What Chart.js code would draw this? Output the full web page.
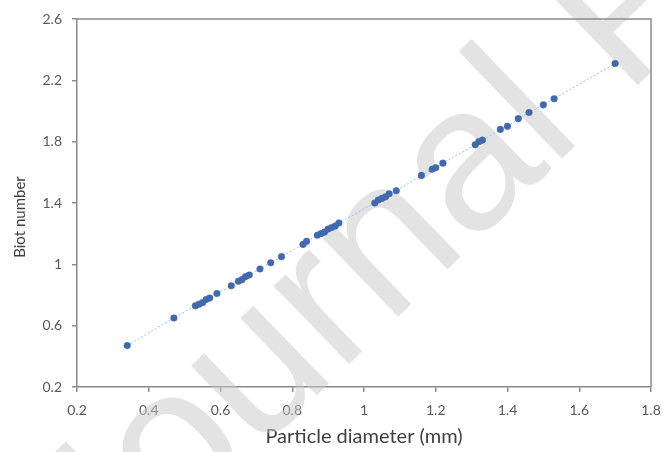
<!DOCTYPE html>
<html>
<head>
<meta charset="utf-8">
<script src="https://cdn.jsdelivr.net/npm/chart.js@4.4.1/dist/chart.umd.min.js"></script>
<style>
    html, body { margin: 0; padding: 0; background: #fff; }
    #wrap { width: 663px; height: 452px; }
</style>
</head>
<body>
<div id="wrap"><canvas id="biotChart" width="663" height="452"></canvas></div>
<script>
// particle diameter (mm) and Biot number
const diameters = [0.34, 0.47, 0.53, 0.54, 0.55, 0.56, 0.57, 0.59, 0.63, 0.65, 0.66, 0.67, 0.68,
    0.71, 0.74, 0.77, 0.83, 0.84, 0.87, 0.88, 0.89, 0.90, 0.91, 0.92, 0.93,
    1.03, 1.04, 1.05, 1.06, 1.07, 1.09, 1.16, 1.19, 1.20, 1.22, 1.31, 1.32, 1.33,
    1.38, 1.40, 1.43, 1.46, 1.50, 1.53, 1.70];
const biotNumbers = [0.47, 0.65, 0.73, 0.74, 0.75, 0.77, 0.78, 0.81, 0.86, 0.89, 0.90, 0.92, 0.93,
    0.97, 1.01, 1.05, 1.13, 1.15, 1.19, 1.20, 1.21, 1.23, 1.24, 1.25, 1.27,
    1.40, 1.42, 1.43, 1.44, 1.46, 1.48, 1.58, 1.62, 1.63, 1.66, 1.78, 1.80, 1.81,
    1.88, 1.90, 1.95, 1.99, 2.04, 2.08, 2.31];
const xTicks = [0.2, 0.4, 0.6, 0.8, 1, 1.2, 1.4, 1.6, 1.8];
const yTicks = [0.2, 0.6, 1, 1.4, 1.8, 2.2, 2.6];
const yTitle = 'Biot number';

const axisGrey = '#8a8a8a';
const labelGrey = '#595959';
const fontFamily = 'Lato, "Open Sans", sans-serif';

// closes the plot box on top and right, and writes the y title a bit below centre like the original
const frame = {
    id: 'frame',
    afterDraw(chart) {
        const { ctx, chartArea: a } = chart;
        ctx.save();
        ctx.strokeStyle = axisGrey;
        ctx.lineWidth = 1.5;
        ctx.beginPath();
        ctx.moveTo(a.left, a.top);
        ctx.lineTo(a.right, a.top);
        ctx.lineTo(a.right, a.bottom);
        ctx.stroke();

        ctx.translate(20, (a.top + a.bottom) / 2 + 14);
        ctx.rotate(-Math.PI / 2);
        ctx.font = '15px ' + fontFamily;
        ctx.fillStyle = '#404040';
        ctx.textAlign = 'center';
        ctx.textBaseline = 'middle';
        ctx.fillText(yTitle, 0, 0);
        ctx.restore();
    }
};

// "Journal Pre-proof" stamp behind the points
const stamp = {
    id: 'stamp',
    beforeDatasetsDraw(chart) {
        const ctx = chart.ctx;
        ctx.save();
        ctx.font = '205px "Liberation Sans", sans-serif';
        ctx.fillStyle = 'rgba(200, 200, 200, 0.5)';
        ctx.translate(552, 168);
        ctx.rotate(-44 * Math.PI / 180);
        ctx.fillText('Journal Pre-proof', -ctx.measureText('Journa').width, 0);
        ctx.restore();
    }
};

new Chart(document.getElementById('biotChart').getContext('2d'), {
    type: 'scatter',
    data: {
        datasets: [{
            label: 'Biot number',
            data: diameters.map((d, i) => ({ x: d, y: biotNumbers[i] })),
            showLine: true,
            borderColor: '#9fbfe6',
            borderWidth: 1,
            borderDash: [2, 2],
            backgroundColor: '#4169b0',
            pointBackgroundColor: '#4169b0',
            pointBorderColor: '#4169b0',
            pointRadius: 3.3,
            pointBorderWidth: 0.5
        }]
    },
    options: {
        responsive: false,
        animation: false,
        layout: { padding: { top: 19, right: 12, left: 0, bottom: 0 } },
        plugins: {
            legend: { display: false },
            tooltip: { enabled: false }
        },
        scales: {
            x: {
                type: 'linear',
                min: 0.2,
                max: 1.8,
                afterBuildTicks: s => { s.ticks = xTicks.map(v => ({ value: v })); },
                afterFit: s => { s.height = 65; s.paddingLeft = 0; s.paddingRight = 0; },
                grid: { drawOnChartArea: false, color: axisGrey, tickLength: 5, lineWidth: 1.5 },
                border: { color: axisGrey, width: 1.5 },
                ticks: {
                    color: labelGrey,
                    padding: 10,
                    maxRotation: 0,
                    font: { family: fontFamily, size: 14 },
                    callback: v => String(v)
                },
                title: {
                    display: true,
                    text: 'Particle diameter (mm)',
                    color: '#404040',
                    font: { family: fontFamily, size: 20 },
                    padding: { top: 0, bottom: 3 }
                }
            },
            y: {
                type: 'linear',
                min: 0.2,
                max: 2.6,
                afterBuildTicks: s => { s.ticks = yTicks.map(v => ({ value: v })); },
                afterFit: s => { s.width = 77; s.paddingTop = 0; s.paddingBottom = 0; },
                grid: { drawOnChartArea: false, color: axisGrey, tickLength: 5, lineWidth: 1.5 },
                border: { color: axisGrey, width: 1.5 },
                ticks: {
                    color: labelGrey,
                    padding: 10,
                    font: { family: fontFamily, size: 14 },
                    callback: v => String(v)
                },
                title: { display: false }
            }
        }
    },
    plugins: [stamp, frame]
});
</script>
</body>
</html>
